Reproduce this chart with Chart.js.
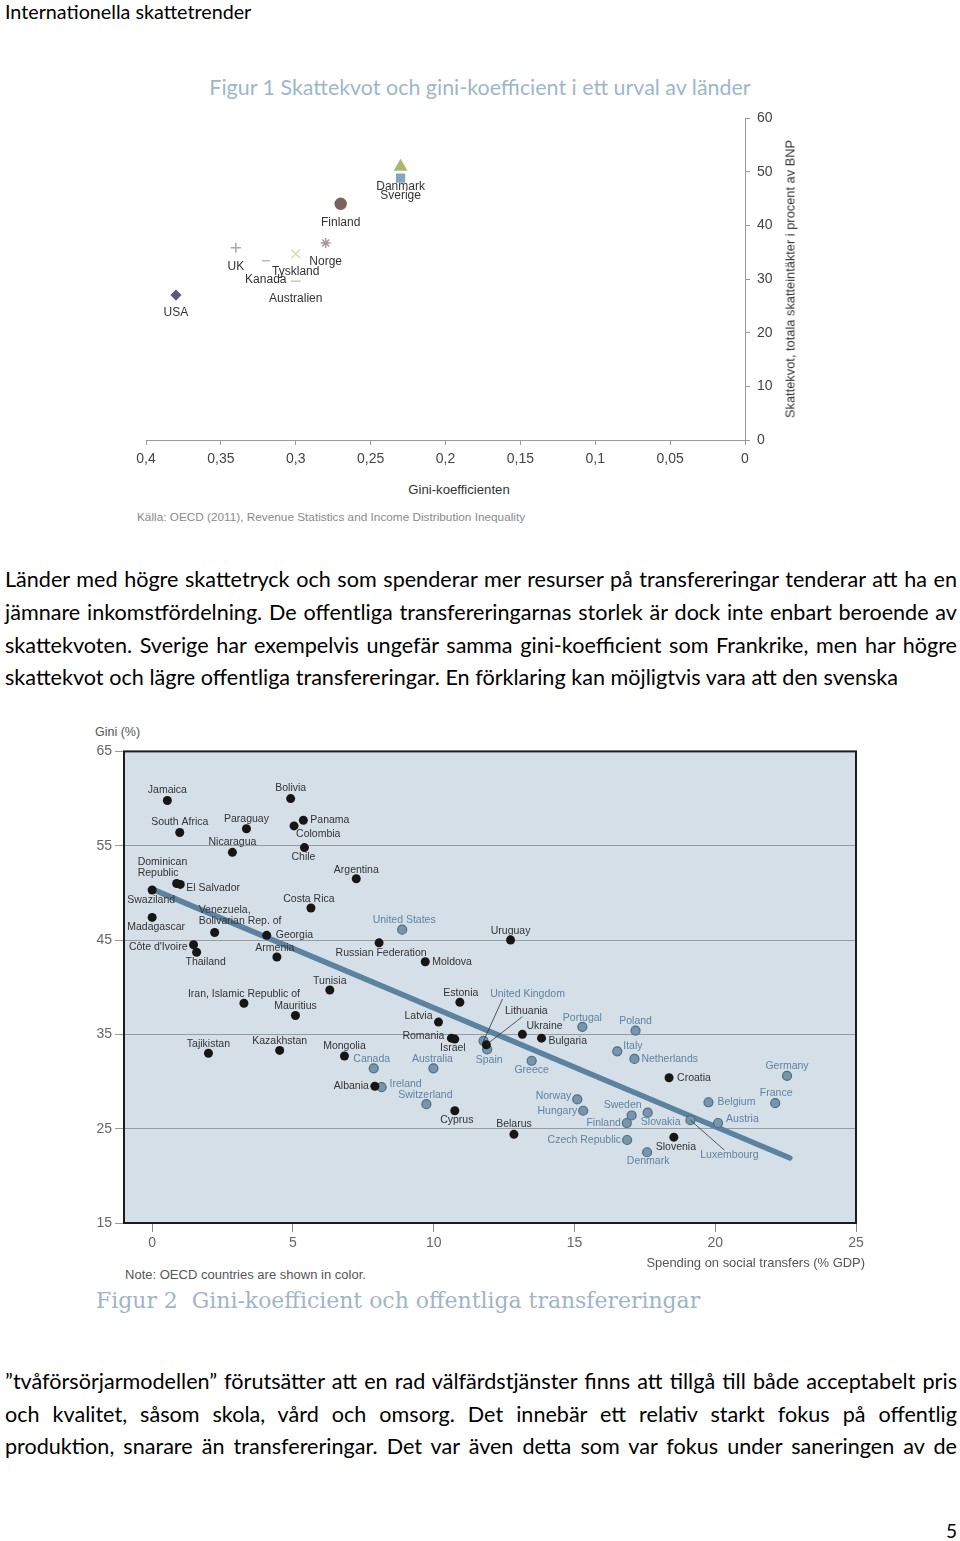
<!DOCTYPE html>
<html lang="sv">
<head>
<meta charset="utf-8">
<title>Internationella skattetrender</title>
<script src="https://cdn.jsdelivr.net/npm/chart.js@4.4.1/dist/chart.umd.min.js"></script>
<style>
  html, body { margin: 0; padding: 0; background: #fff; }
  #page { position: relative; width: 960px; height: 1541px; overflow: hidden; font-family: Lato, "Open Sans", sans-serif; color: #000; }
  .t { position: absolute; white-space: nowrap; }
  .p { position: absolute; left: 5px; white-space: nowrap; font-size: 18.5px; line-height: 32px; height: 32px; }
  .ch { font-family: "Liberation Sans", Arial, sans-serif; }
  canvas { position: absolute; }
</style>
</head>
<body>
<div id="page">
  <div class="t" id="head" style="left:5px; top:0px; font-size:17px; line-height:24px;" data-w="246">Internationella skattetrender</div>
  <div class="t" id="fig1title" style="left:480px; top:87px; transform:translate(-50%,-50%); font-size:18px; line-height:24px; color:#9eb6ca;" data-w="541">Figur 1 Skattekvot och gini-koefficient i ett urval av länder</div>

  <canvas id="c1" width="740" height="380" style="left:100px; top:100px;"></canvas>
  <div class="t ch" style="left:790px; top:279px; transform:translate(-50%,-50%) rotate(-90deg); font-size:12px; color:#333;" data-w="278">Skattekvot, totala skatteintäkter i procent av BNP</div>
  <div class="t ch" style="left:459px; top:489px; transform:translate(-50%,-50%); font-size:12px; color:#333;" data-w="102">Gini-koefficienten</div>
  <div class="t ch" style="left:137px; top:516px; transform:translateY(-50%); font-size:11px; color:#8a8a8a;" data-w="388">Källa: OECD (2011), Revenue Statistics and Income Distribution Inequality</div>

  <div class="p" style="top:563px;" data-j="952">Länder med högre skattetryck och som spenderar mer resurser på transfereringar tenderar att ha en</div>
  <div class="p" style="top:596px;" data-j="952">jämnare inkomstfördelning. De offentliga transfereringarnas storlek är dock inte enbart beroende av</div>
  <div class="p" style="top:629px;" data-j="952">skattekvoten. Sverige har exempelvis ungefär samma gini-koefficient som Frankrike, men har högre</div>
  <div class="p" id="ref" style="top:661px;" data-j="893">skattekvot och lägre offentliga transfereringar. En förklaring kan möjligtvis vara att den svenska</div>

  <div class="t ch" style="left:95px; top:732px; transform:translateY(-50%); font-size:12.5px; color:#555;">Gini (%)</div>
  <canvas id="c2" width="800" height="520" style="left:80px; top:740px;"></canvas>
  <div class="t ch" style="left:865px; top:1262px; transform:translate(-100%,-50%); font-size:12px; color:#555;" data-w="219">Spending on social transfers (% GDP)</div>
  <div class="t ch" style="left:125px; top:1274px; transform:translateY(-50%); font-size:12px; color:#555;" data-w="241">Note: OECD countries are shown in color.</div>
  <div class="t" style="left:96px; top:1300px; transform:translateY(-50%); font-family:'DejaVu Serif', serif; font-size:21px; color:#9fb5c8;" data-w="604">Figur 2&nbsp; Gini-koefficient och offentliga transfereringar</div>

  <div class="p" style="top:1365px;" data-j="952">”tvåförsörjarmodellen” förutsätter att en rad välfärdstjänster finns att tillgå till både acceptabelt pris</div>
  <div class="p" style="top:1398px;" data-j="952">och kvalitet, såsom skola, vård och omsorg. Det innebär ett relativ starkt fokus på offentlig</div>
  <div class="p" style="top:1430px;" data-j="952">produktion, snarare än transfereringar. Det var även detta som var fokus under saneringen av de</div>

  <div class="t" style="left:957px; top:1530px; transform:translate(-100%,-50%); font-size:19px;">5</div>
</div>

<script>
// Figur 1: skattekvot mot gini
const countries1 = ["USA", "UK", "Kanada", "Tyskland", "Australien", "Norge", "Finland", "Danmark", "Sverige"];
const gini1 = [0.38, 0.34, 0.32, 0.30, 0.30, 0.28, 0.27, 0.23, 0.23];
const tax1 = [27.0, 35.8, 33.4, 34.7, 29.6, 36.7, 44.0, 50.9, 48.8];
const xTicks1 = [0, 0.05, 0.1, 0.15, 0.2, 0.25, 0.3, 0.35, 0.4];
const xLabels1 = ["0", "0,05", "0,1", "0,15", "0,2", "0,25", "0,3", "0,35", "0,4"];
const yTicks1 = [0, 10, 20, 30, 40, 50, 60];

// Figur 2: gini mot transfereringar
const countries2 = ["Jamaica", "Bolivia", "South Africa", "Paraguay", "Panama", "Colombia", "Nicaragua", "Chile",
  "Dominican Republic", "El Salvador", "Argentina", "Swaziland", "Costa Rica", "Madagascar",
  "Venezuela, Bolivarian Rep. of", "Georgia", "United States", "Côte d'Ivoire", "Thailand", "Armenia",
  "Russian Federation", "Uruguay", "Moldova", "Tunisia", "Iran, Islamic Republic of", "Mauritius", "Estonia",
  "United Kingdom", "Lithuania", "Latvia", "Romania", "Israel", "Spain", "Ukraine", "Bulgaria", "Portugal",
  "Poland", "Italy", "Netherlands", "Greece", "Croatia", "Germany", "France", "Belgium", "Austria",
  "Luxembourg", "Slovenia", "Denmark", "Czech Republic", "Finland", "Sweden", "Slovakia", "Norway",
  "Hungary", "Belarus", "Cyprus", "Switzerland", "Ireland", "Albania", "Canada", "Australia", "Mongolia",
  "Kazakhstan", "Tajikistan"];
const spending2 = [0.54, 4.92, 0.98, 3.35, 5.37, 5.04, 2.85, 5.41,
  0.87, 1.0, 7.25, 0.0, 5.64, 0.0,
  2.22, 4.07, 8.88, 1.47, 1.58, 4.43,
  8.06, 12.73, 9.7, 6.31, 3.26, 5.09, 10.93,
  11.77, 11.87, 10.17, 10.63, 10.75, 11.9, 13.15, 13.83, 15.28,
  17.17, 16.52, 17.13, 13.48, 18.36, 22.55, 22.13, 19.76, 20.1,
  19.12, 18.53, 17.58, 16.87, 16.86, 17.03, 17.6, 15.1,
  15.31, 12.85, 10.75, 9.74, 8.15, 7.91, 7.87, 9.99, 6.83,
  4.53, 2.0];
const gini2 = [59.8, 60.0, 56.4, 56.8, 57.7, 57.1, 54.3, 54.8,
  51.0, 50.9, 51.5, 50.3, 48.4, 47.4,
  45.8, 45.5, 46.1, 44.5, 43.7, 43.2,
  44.7, 45.0, 42.7, 39.7, 38.3, 37.0, 38.4,
  34.3, 33.9, 36.3, 34.6, 34.5, 33.4, 35.0, 34.6, 35.8,
  35.4, 33.2, 32.4, 32.2, 30.4, 30.6, 27.7, 27.8, 25.6,
  25.9, 24.1, 22.5, 23.8, 25.6, 26.4, 26.7, 28.1,
  26.9, 24.4, 26.9, 27.6, 29.4, 29.5, 31.4, 31.4, 32.7,
  33.3, 33.0];
const oecd = ["United States", "United Kingdom", "Spain", "Portugal", "Poland", "Italy", "Netherlands", "Greece",
  "Germany", "France", "Belgium", "Austria", "Luxembourg", "Denmark", "Czech Republic", "Finland", "Sweden",
  "Slovakia", "Norway", "Hungary", "Switzerland", "Ireland", "Canada", "Australia"];
const trendX = [0, 22.65];
const trendY = [50.4, 21.9];
const xTicks2 = [0, 5, 10, 15, 20, 25];
const yTicks2 = [15, 25, 35, 45, 55, 65];

// utseende figur 1
const style1 = {
  pointStyle: ["rectRot", "cross", "line", "crossRot", "line", "star", "circle", "triangle", "rect"],
  color: ["#5b5b7a", "#a8a8a8", "#c9b8ba", "#d8dcb2", "#c3d3a4", "#a99a95", "#7a625c", "#a9b86e", "#86a6bd"],
  radius: [4.5, 5, 4, 6, 5, 5, 5.5, 6.5, 5.5],
  labelDy: [18, 19, 19, 18, 18, 19, 19, 20, 18]
};

// etikettplacering figur 2: [dx, dy, justering, rader?, ledarlinje?]
const place2 = {
  "Jamaica": [0, -10, "center"], "Bolivia": [0, -10, "center"], "South Africa": [0, -10, "center"],
  "Paraguay": [0, -10, "center"], "Panama": [7, 0, "left"], "Colombia": [2, 8, "left"],
  "Nicaragua": [0, -10, "center"], "Chile": [-1, 10, "center"],
  "Dominican Republic": [-39, -21, "left", ["Dominican", "Republic"]],
  "El Salvador": [6, 4, "left"], "Argentina": [0, -9, "center"], "Swaziland": [-1, 10, "center"],
  "Costa Rica": [-2, -9, "center"], "Madagascar": [4, 10, "center"],
  "Venezuela, Bolivarian Rep. of": [-16, -22, "left", ["Venezuela,", "Bolivarian Rep. of"]],
  "Georgia": [9, 0, "left"], "United States": [2, -10, "center"], "Côte d'Ivoire": [-6, 2, "right"],
  "Thailand": [9, 10, "center"], "Armenia": [-2, -9, "center"], "Russian Federation": [2, 10, "center"],
  "Uruguay": [0, -9, "center"], "Moldova": [7, 0, "left"], "Tunisia": [0, -9, "center"],
  "Iran, Islamic Republic of": [0, -9, "center"], "Mauritius": [0, -9, "center"], "Estonia": [1, -9, "center"],
  "United Kingdom": [44, -47, "center", null, [19, -42]],
  "Lithuania": [40, -34, "center", null, [36, -28]],
  "Latvia": [-6, -6, "right"], "Romania": [-7, -2, "right"], "Israel": [-2, 9, "center"],
  "Spain": [2, 11, "center"], "Ukraine": [4, -8, "left"], "Bulgaria": [7, 3, "left"],
  "Portugal": [0, -9, "center"], "Poland": [0, -9, "center"], "Italy": [6, -5, "left"],
  "Netherlands": [7, 0, "left"], "Greece": [0, 9, "center"], "Croatia": [8, 0, "left"],
  "Germany": [0, -10, "center"], "France": [1, -10, "center"], "Belgium": [9, 0, "left"],
  "Austria": [8, -4, "left"], "Luxembourg": [39, 35, "center", null, [34, 30]],
  "Slovenia": [2, 10, "center"], "Denmark": [1, 9, "center"], "Czech Republic": [-6, 0, "right"],
  "Finland": [-6, 0, "right"], "Sweden": [-9, -10, "center"], "Slovakia": [13, 9, "center"],
  "Norway": [-6, -3, "right"], "Hungary": [-6, 0, "right"], "Belarus": [0, -10, "center"],
  "Cyprus": [2, 9, "center"], "Switzerland": [-1, -9, "center"], "Ireland": [8, -3, "left"],
  "Albania": [-6, 0, "right"], "Canada": [-2, -9, "center"], "Australia": [-1, -9, "center"],
  "Mongolia": [0, -10, "center"], "Kazakhstan": [0, -9, "center"], "Tajikistan": [0, -9, "center"]
};

const tickFont = { family: '"Liberation Sans Narrow", "Liberation Sans", Arial, sans-serif', size: 14 };

const labels1 = {
  id: "labels1",
  afterDatasetsDraw(chart) {
    const ctx = chart.ctx, xs = chart.scales.x, ys = chart.scales.y;
    ctx.save();
    ctx.font = '12px "Liberation Sans", Arial, sans-serif';
    ctx.fillStyle = "#333";
    ctx.textAlign = "center";
    ctx.textBaseline = "middle";
    countries1.forEach((name, i) => {
      ctx.fillText(name, xs.getPixelForValue(gini1[i]), ys.getPixelForValue(tax1[i]) + style1.labelDy[i]);
    });
    ctx.restore();
  }
};

new Chart(document.getElementById("c1"), {
  type: "scatter",
  data: {
    datasets: [{
      data: countries1.map((c, i) => ({ x: gini1[i], y: tax1[i] })),
      pointStyle: style1.pointStyle,
      backgroundColor: style1.color,
      borderColor: style1.color,
      borderWidth: 1.5,
      pointRadius: style1.radius
    }]
  },
  options: {
    responsive: false,
    animation: false,
    events: [],
    layout: { padding: { left: 46, top: 18, right: 0, bottom: 0 } },
    plugins: { legend: { display: false }, tooltip: { enabled: false } },
    scales: {
      x: {
        type: "linear", reverse: true, min: 0, max: 0.4,
        afterBuildTicks: s => { s.ticks = xTicks1.map(v => ({ value: v })); },
        afterFit: s => { s.height = 40; },
        grid: { drawOnChartArea: false, tickLength: 5, color: "#9a9a9a" },
        border: { display: true, color: "#9a9a9a" },
        ticks: { callback: v => xLabels1[xTicks1.indexOf(v)], color: "#444", font: tickFont, padding: 6, maxRotation: 0, autoSkip: false }
      },
      y: {
        position: "right", min: 0, max: 60,
        afterBuildTicks: s => { s.ticks = yTicks1.map(v => ({ value: v })); },
        afterFit: s => { s.width = 95; },
        grid: { drawOnChartArea: false, tickLength: 5, color: "#9a9a9a" },
        border: { display: true, color: "#9a9a9a" },
        ticks: { color: "#444", font: tickFont, padding: 7 }
      }
    }
  },
  plugins: [labels1]
});

const frame2 = {
  id: "frame2",
  beforeDraw(chart) {
    const { ctx, chartArea: a } = chart;
    ctx.save();
    ctx.fillStyle = "#d5dfe8";
    ctx.fillRect(a.left, a.top, a.right - a.left, a.bottom - a.top);
    ctx.restore();
  },
  afterDraw(chart) {
    const { ctx, chartArea: a } = chart;
    ctx.save();
    ctx.strokeStyle = "#1c1c1c";
    ctx.lineWidth = 2;
    ctx.strokeRect(a.left, a.top, a.right - a.left, a.bottom - a.top);
    ctx.restore();
  }
};

const labels2 = {
  id: "labels2",
  afterDatasetsDraw(chart) {
    const ctx = chart.ctx, xs = chart.scales.x, ys = chart.scales.y;
    ctx.save();
    ctx.font = '10.5px "Liberation Sans", Arial, sans-serif';
    ctx.textBaseline = "middle";
    countries2.forEach((name, i) => {
      const p = place2[name];
      if (!p) return;
      const px = xs.getPixelForValue(spending2[i]), py = ys.getPixelForValue(gini2[i]);
      if (p[4]) {
        ctx.strokeStyle = "#333";
        ctx.lineWidth = 0.8;
        ctx.beginPath();
        ctx.moveTo(px, py);
        ctx.lineTo(px + p[4][0], py + p[4][1]);
        ctx.stroke();
      }
      ctx.fillStyle = oecd.includes(name) ? "#5f83a2" : "#333";
      ctx.textAlign = p[2];
      const lines = p[3] || [name];
      lines.forEach((t, k) => ctx.fillText(t, px + p[0], py + p[1] + k * 11));
    });
    ctx.restore();
  }
};

const pts = f => countries2.map((c, i) => ({ x: spending2[i], y: gini2[i], c })).filter(d => f(oecd.includes(d.c)));

new Chart(document.getElementById("c2"), {
  type: "scatter",
  data: {
    datasets: [
      { type: "line", data: trendX.map((x, i) => ({ x, y: trendY[i] })), borderColor: "#5b83a0", borderWidth: 5.5,
        borderCapStyle: "round", pointRadius: 0, order: 2 },
      { data: pts(o => !o), backgroundColor: "#161616", borderWidth: 0, pointRadius: 4.5, order: 1 },
      { data: pts(o => o), backgroundColor: "#7795ac", borderColor: "#4e6c83", borderWidth: 1.2, pointRadius: 4.5, order: 1 }
    ]
  },
  options: {
    responsive: false,
    animation: false,
    events: [],
    layout: { padding: { left: 0, top: 10, right: 24, bottom: 0 } },
    plugins: { legend: { display: false }, tooltip: { enabled: false } },
    scales: {
      x: {
        type: "linear", min: -1, max: 25,
        afterBuildTicks: s => { s.ticks = xTicks2.map(v => ({ value: v })); },
        afterFit: s => { s.height = 37; },
        grid: { drawOnChartArea: false, tickLength: 9, color: "#8a8a8a" },
        border: { display: false },
        ticks: { color: "#666", font: tickFont, padding: 3, maxRotation: 0, autoSkip: false }
      },
      y: {
        min: 15, max: 65,
        afterBuildTicks: s => { s.ticks = yTicks2.map(v => ({ value: v })); },
        afterFit: s => { s.width = 44; },
        grid: { tickLength: 9, color: "#959ca3" },
        border: { display: false },
        ticks: { color: "#666", font: tickFont, padding: 3 }
      }
    }
  },
  plugins: [frame2, labels2]
});

// textbredder som i originalet
document.fonts.ready.then(() => {
  document.querySelectorAll("[data-w]").forEach(el => {
    const fs = parseFloat(getComputedStyle(el).fontSize);
    el.style.fontSize = (fs * (+el.dataset.w) / el.offsetWidth) + "px";
  });
  const ref = document.getElementById("ref");
  const size = 18.5 * 893 / ref.offsetWidth;
  document.querySelectorAll("[data-j]").forEach(el => {
    el.style.fontSize = size + "px";
    el.style.wordSpacing = "0px";
    const n = el.getBoundingClientRect().width;
    const spaces = (el.textContent.match(/ /g) || []).length;
    el.style.wordSpacing = ((+el.dataset.j - n) / spaces) + "px";
  });
});
</script>
</body>
</html>
